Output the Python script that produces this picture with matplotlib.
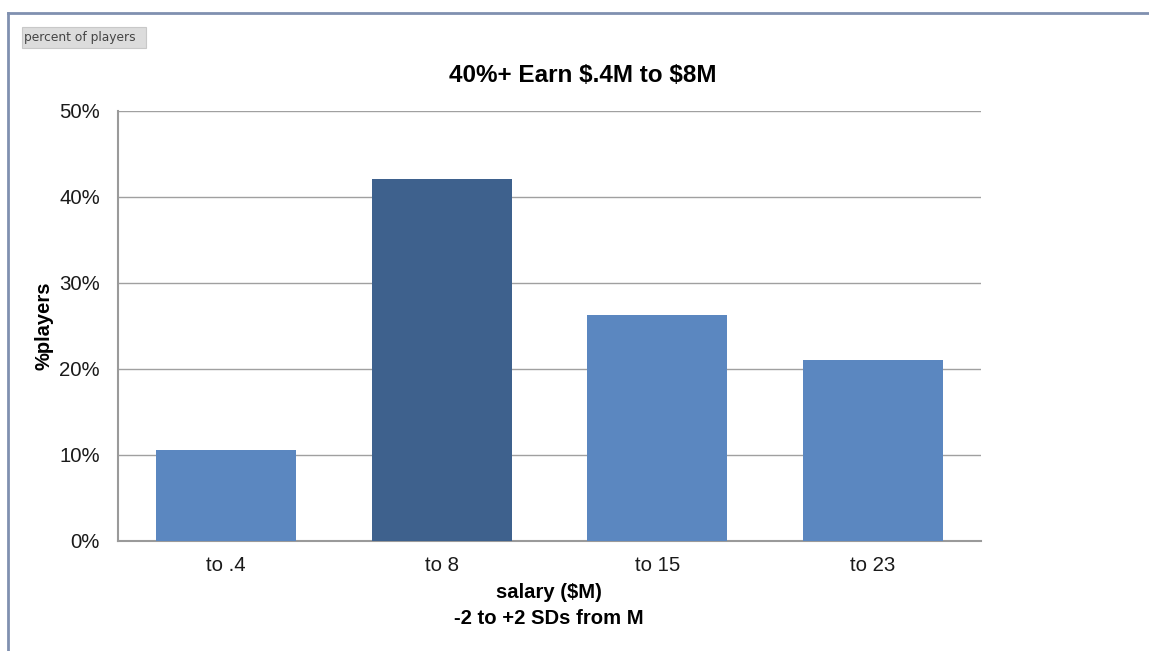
import matplotlib.pyplot as plt
from matplotlib.patches import Rectangle
from matplotlib.lines import Line2D
from matplotlib.ticker import PercentFormatter

categories = ['to .4', 'to 8', 'to 15', 'to 23']
share = [10.6, 42.1, 26.3, 21.1]
colors = ['#5b87c0', '#3e618d', '#5b87c0', '#5b87c0']

plt.rcParams['font.family'] = ['Liberation Sans', 'DejaVu Sans']

W, H = 1149, 651
fig = plt.figure(figsize=(W / 100, H / 100), dpi=100)

# page border (top and left edges)
fig.add_artist(Line2D([8 / W, 1], [1 - 13 / H, 1 - 13 / H], color='#8090b0', lw=2))
fig.add_artist(Line2D([8 / W, 8 / W], [0, 1 - 13 / H], color='#8090b0', lw=2))

# small caption box
fig.add_artist(Rectangle((22 / W, 1 - 48 / H), 124 / W, 21 / H, facecolor='#dcdcdc',
                         edgecolor='#c8c8c8', lw=0.8))
fig.text(24 / W, 1 - 38 / H, 'percent of players', fontsize=8.8, color='#444444',
         family='DejaVu Sans', va='center', ha='left')

ax = fig.add_axes([118 / W, 1 - 541 / H, (981 - 118) / W, (541 - 111) / H])
x = range(len(categories))
ax.bar(x, share, width=0.65, color=colors, zorder=3)
ax.set_xlim(-0.5, len(categories) - 0.5)
ax.set_ylim(0, 50)
ax.set_yticks([0, 10, 20, 30, 40, 50])
ax.yaxis.set_major_formatter(PercentFormatter(decimals=0))
ax.set_xticks(list(x))
ax.set_xticklabels(categories)
ax.tick_params(axis='both', labelsize=14.7, length=0, colors='#1a1a1a')
ax.tick_params(axis='x', pad=11)
ax.tick_params(axis='y', pad=13)
ax.grid(axis='y', color='#a0a0a0', lw=1, zorder=0)
for side in ['top', 'right']:
    ax.spines[side].set_visible(False)
for side in ['left', 'bottom']:
    ax.spines[side].set_color('#9a9a9a')
    ax.spines[side].set_linewidth(1.5)

fig.text(583 / W, 1 - 75 / H, r'40%+ Earn \$.4M to \$8M', fontsize=17.5, weight='bold',
         ha='center', va='center')
fig.text(44 / W, 1 - 326 / H, '%players', fontsize=14.5, weight='bold', rotation=90,
         ha='center', va='center')
fig.text(549 / W, 1 - 593 / H, r'salary (\$M)', fontsize=14.6, weight='bold',
         ha='center', va='center')
fig.text(549 / W, 1 - 618 / H, '-2 to +2 SDs from M', fontsize=14.6, weight='bold',
         ha='center', va='center')

fig.savefig('out.png', dpi=100)
